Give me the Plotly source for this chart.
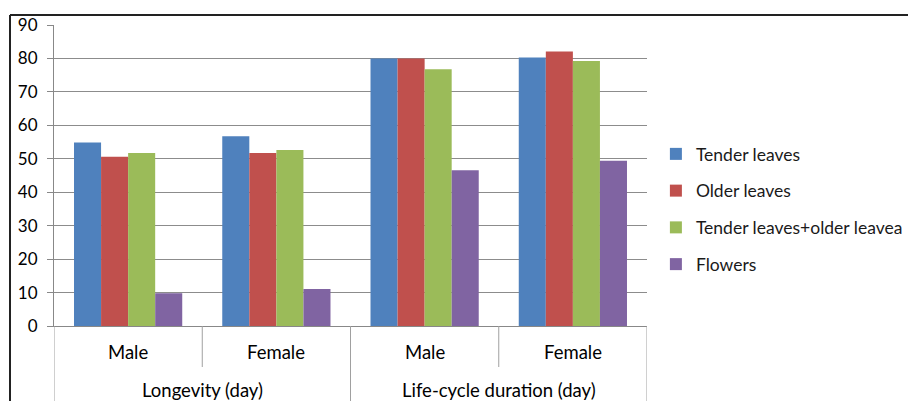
import plotly.graph_objects as go

outer_labels = ["Longevity (day)", "Life-cycle duration (day)"]
inner_labels = ["Male", "Female", "Male", "Female"]
categories = ["Longevity Male", "Longevity Female", "Life-cycle Male", "Life-cycle Female"]

series_names = ["Tender leaves", "Older leaves", "Tender leaves+older leavea", "Flowers"]
tender = [54.9, 56.7, 80.0, 80.3]
older = [50.6, 51.7, 80.0, 82.1]
tender_older = [51.7, 52.6, 76.8, 79.2]
flowers = [9.8, 11.1, 46.6, 49.4]
colors = ["#4F81BD", "#C0504D", "#9BBB59", "#8064A2"]

yticks = [0, 10, 20, 30, 40, 50, 60, 70, 80, 90]

FONT = "Lato"
FS = 18.5
FS_LEG = 17.5
FS_Y = 17
# the page body adds an 8px offset, so the figure is 8px smaller
W, H = 908, 393
L, R, T, B = 46, 269, 17, 75
PW, PH = W - L - R, H - T - B

fig = go.Figure()
for i, (name, vals) in enumerate(zip(series_names, [tender, older, tender_older, flowers])):
    fig.add_trace(go.Bar(
        x=categories, y=vals, name=name,
        marker=dict(color=colors[i], line=dict(width=0)),
        legendgroup=name,
    ))

annotations = []
for i, lab in enumerate(inner_labels):
    annotations.append(dict(x=i, xref="x", y=-26 / PH, yref="paper", text=lab,
                            showarrow=False, xanchor="center", yanchor="middle",
                            font=dict(family=FONT, size=FS, color="#000000")))
for j, lab in enumerate(outer_labels):
    annotations.append(dict(x=2 * j + 0.5, xref="x", y=-64 / PH, yref="paper", text=lab,
                            showarrow=False, xanchor="center", yanchor="middle",
                            font=dict(family=FONT, size=FS, color="#000000")))

shapes = []
for xb in [-0.5, 1.5, 3.5]:
    shapes.append(dict(type="line", xref="x", yref="paper", x0=xb, x1=xb,
                       y0=0, y1=-B / PH, line=dict(color="#a0a0a0", width=1)))
for xb in [0.5, 2.5]:
    shapes.append(dict(type="line", xref="x", yref="paper", x0=xb, x1=xb,
                       y0=0, y1=-41 / PH, line=dict(color="#a0a0a0", width=1)))
fx = (2 - L) / PW
fy = 1 + (T - 7) / PH
shapes.append(dict(type="line", xref="paper", yref="paper", x0=fx, x1=(W - L) / PW,
                   y0=fy, y1=fy, line=dict(color="#222222", width=2)))
shapes.append(dict(type="line", xref="paper", yref="paper", x0=fx, x1=fx,
                   y0=fy, y1=-B / PH, line=dict(color="#222222", width=2)))

fig.update_layout(
    width=W, height=H,
    margin=dict(l=L, r=R, t=T, b=B, autoexpand=False),
    paper_bgcolor="white", plot_bgcolor="white",
    barmode="group", bargap=0.27, bargroupgap=0,
    font=dict(family=FONT, size=FS, color="#000000"),
    showlegend=True,
    legend=dict(
        x=1.015, y=(318 - 201) / PH, xanchor="left", yanchor="middle",
        font=dict(family=FONT, size=FS_LEG, color="#1a1a1a"),
        traceorder="grouped", tracegroupgap=11,
        bgcolor="rgba(0,0,0,0)",
    ),
    xaxis=dict(
        type="category", range=[-0.5, 3.5], automargin=False,
        showline=True, linecolor="#888888", linewidth=1,
        showticklabels=False, ticks="", showgrid=False,
    ),
    yaxis=dict(
        range=[0, 90], tickvals=yticks, automargin=False,
        showgrid=True, gridcolor="#8c8c8c", gridwidth=1,
        showline=True, linecolor="#888888", linewidth=1,
        ticks="outside", ticklen=6, tickcolor="#888888",
        ticklabelstandoff=6,
        tickfont=dict(family=FONT, size=FS_Y, color="#000000"),
        zeroline=False,
    ),
    annotations=annotations,
    shapes=shapes,
)

fig.write_html("out.html")
